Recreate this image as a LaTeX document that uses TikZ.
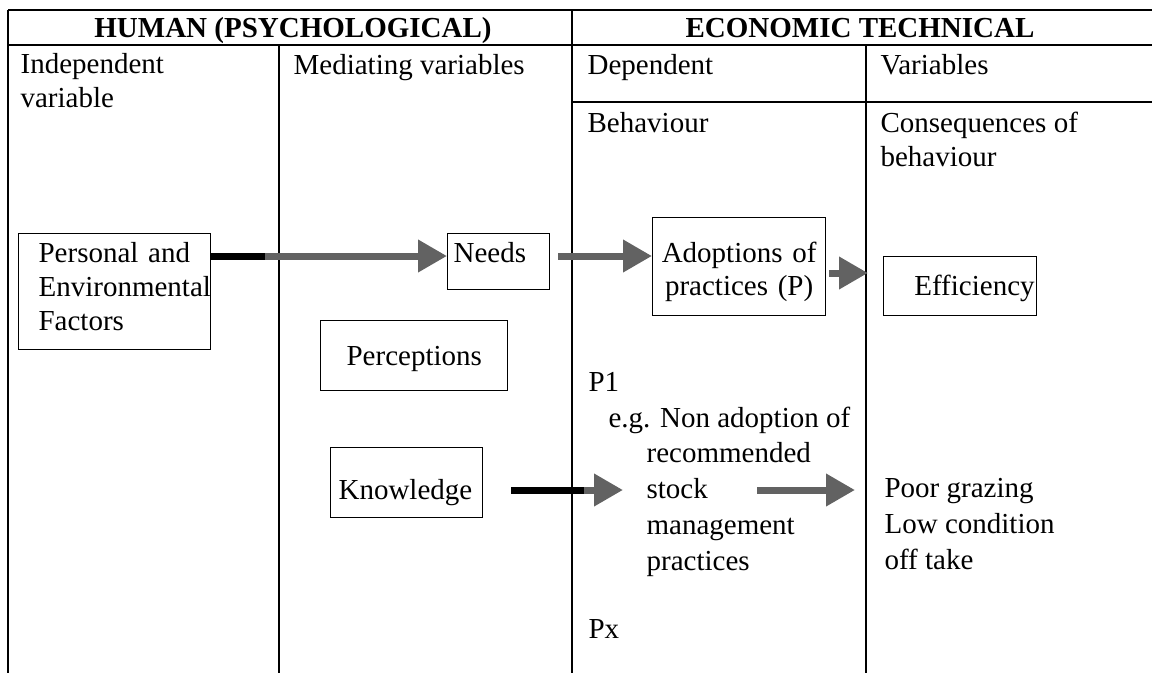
\documentclass[tikz,border=0pt]{standalone}
\usepackage{fontspec}
\setmainfont{Liberation Serif}
\usetikzlibrary{arrows.meta}
\definecolor{arrowgrey}{RGB}{98,98,98}

\begin{document}
\begin{tikzpicture}[
            x = 1pt, y = -1pt, % one unit per pixel of the scan
            font = \fontsize{29}{34}\selectfont,
            > = {Triangle[length=29pt, width=31pt]}, % block arrow head
            line width = 1.2pt
        ]

        \tikzstyle{cell}=[
            anchor = base west,
            inner sep = 0pt
        ]
        \tikzstyle{lines}=[
            anchor = north west,
            inner sep = 0pt,
            align = left
        ]
        \tikzstyle{box}=[
            draw = black,
            anchor = north west,
            inner ysep = 0pt,
            align = left
        ]
        \tikzstyle{block}=[
            ->,
            draw = arrowgrey,
            line width = 7pt
        ]

        \useasboundingbox (0,0) rectangle (1152,673);

        % table rules
        \draw (8,10) -- (1152,10);
        \draw (8,45) -- (1152,45);
        \draw (572,102) -- (1152,102);
        \draw (8,10) -- (8,673);
        \draw (279,45) -- (279,673);
        \draw (572,10) -- (572,673);
        \draw (866,45) -- (866,673);

        % headings
        \node[cell, anchor=base, font=\fontsize{29}{34}\selectfont\bfseries] (human) at (293,37) {HUMAN (PSYCHOLOGICAL)};
        \node[cell, anchor=base, font=\fontsize{29}{34}\selectfont\bfseries] (econ) at (860,37) {ECONOMIC TECHNICAL};
        \node[lines] (indep) at (20,53) {Independent\\variable};
        \node[cell] (mediat) at (293,74) {Mediating variables};
        \node[cell] (depend) at (587,74) {Dependent};
        \node[cell] (variab) at (880,74) {Variables};
        \node[cell] (behav) at (587,132) {Behaviour};
        \node[lines] (conseq) at (880,111) {Consequences of\\behaviour};

        % boxes
        \node[box, inner xsep=20pt, text width=152pt, text height=29pt, text depth=87pt] (pers) at (18,233) {Personal and\\Environmental\\Factors};
        \node[box, inner xsep=6pt, text width=90pt, text height=29pt, text depth=27pt] (needs) at (447,233) {Needs};
        \node[box, align=center, font=\fontsize{29}{33}\selectfont, inner xsep=6pt, text width=161pt, text height=45pt, text depth=53pt] (adopt) at (652,217) {Adoptions of\\practices (P)};
        \node[box, align=right, inner xsep=2pt, text width=149pt, text height=39pt, text depth=20pt] (eff) at (883,256) {Efficiency};
        \node[box, inner xsep=26pt, text width=135pt, text height=45pt, text depth=25pt] (perc) at (320,320) {Perceptions};
        \node[box, inner xsep=8pt, text width=136pt, text height=52pt, text depth=18pt] (know) at (330,447) {Knowledge};

        % behaviour column
        \node[cell] (pone) at (588,391) {P1};
        \node[cell] (eg) at (608,427) {e.g. Non adoption of};
        \node[lines, font=\fontsize{29}{36}\selectfont] (practice) at (646,442) {recommended\\stock\\management\\practices};
        \node[cell] (px) at (588,638) {Px};
        \node[lines, font=\fontsize{29}{36}\selectfont] (poor) at (884,478) {Poor grazing\\Low condition\\off take};

        % arrows
        \coordinate (needrow) at (0,256);
        \coordinate (effin) at (868,273);
        \coordinate (grazeout) at (757,490);
        \draw[block] (pers.east |- needrow) -- (needs.west |- needrow);
        \draw[line width=7pt] (pers.east |- needrow) -- ++(54,0);
        \draw[block, shorten <= 8pt] (needs.east |- needrow) -- (adopt.west |- needrow);
        \draw[block, shorten <= 3pt] (adopt.east |- effin) -- (effin);
        \draw[block, shorten <= 28pt, shorten >= 23pt] (know.east |- grazeout) -- (practice.west |- grazeout);
        \draw[line width=7pt, shorten <= 28pt] (know.east |- grazeout) -- ++(101,0);
        \draw[block, shorten >= 29pt] (grazeout) -- (poor.west |- grazeout);

\end{tikzpicture}
\end{document}
